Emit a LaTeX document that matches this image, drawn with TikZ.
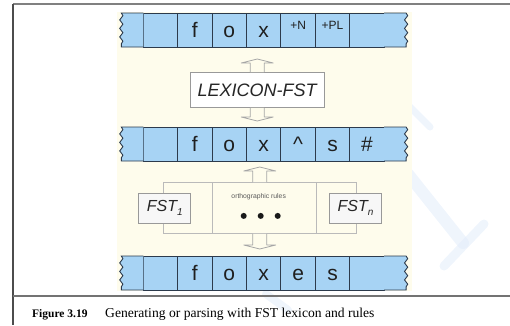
\documentclass[tikz,border=0pt]{standalone}
\usepackage{fontspec}
\setmainfont{Liberation Serif}
\newfontfamily\arialfont{Liberation Sans}
\usetikzlibrary{
        calc,
        decorations.pathmorphing,
        positioning
    }
\definecolor{tapeblue}{RGB}{167,211,244}
\definecolor{tapeline}{RGB}{44,58,76}
\definecolor{paper}{RGB}{254,252,236}
\definecolor{markblue}{RGB}{226,236,250}
\tikzset{
    cell/.style={draw=tapeline, fill=tapeblue, line width=0.9pt,
        minimum width=34.4pt, minimum height=34pt, inner sep=0pt, outer sep=0pt,
        text=black!88, font=\arialfont\fontsize{21}{21}\selectfont,
        text height=15pt, text depth=0pt},
    tag/.style={font=\arialfont\fontsize{12}{12}\selectfont, text height=0pt, text depth=2pt},
    torn/.style={decoration={snake, amplitude=1.6pt, segment length=8.5pt}},
    lexbox/.style={draw=black!40, fill=white, line width=0.8pt,
        minimum width=134pt, minimum height=35pt, inner sep=0pt,
        font=\arialfont\itshape\fontsize{18}{18}\selectfont, text=black!85},
    fstbox/.style={draw=black!40, fill=white!97!black, line width=0.8pt,
        minimum width=52pt, minimum height=30pt, inner sep=0pt,
        font=\arialfont\itshape\fontsize{16}{16}\selectfont, text=black!85},
    group/.style={draw=black!27, line width=0.8pt, inner sep=0pt},
    hollow/.style={draw=black!35, line width=0.8pt, fill=paper, line join=round}
}
% torn blue ends on both sides of a tape
\newcommand\tapeends[2]{%
    \draw[tapeline, fill=tapeblue, line width=0.9pt]
        (#1.north west) -- ++(-22,0) decorate[torn]{-- ++(0,34)} -- (#1.south west);
    \draw[tapeline, fill=tapeblue, line width=0.9pt]
        (#2.north east) -- ++(22,0) decorate[torn]{-- ++(0,34)} -- (#2.south east);
}
% wide hollow arrow from #1 to the tip #2
\newcommand\hollowarrow[2]{%
    \coordinate (hb) at ($(#2)!4pt!(#1)$);
    \draw[hollow] ($(#1)+(-7,0)$) -- ($(hb)+(-7,0)$) -- ($(hb)+(-16,0)$)
        -- (#2) -- ($(hb)+(16,0)$) -- ($(hb)+(7,0)$) -- ($(#1)+(7,0)$);
}

\begin{document}
\begin{tikzpicture}[x=1pt,y=-1pt]
    \useasboundingbox (0,0) rectangle (510,325);

    % faint marks behind the panel
    \begin{scope}[markblue, line cap=round, opacity=.55]
        \draw[line width=7pt] (402,99) -- (430,127);
        \draw[line width=12pt] (408,174) -- (463,243);
        \draw[line width=9pt] (484,224) -- (444,266);
        \draw[line width=8pt] (266,294) -- (288,310);
    \end{scope}

    % page rules
    \draw[black!50, line width=2pt] (13,4) -- (510,4);
    \draw[black!70, line width=1.3pt] (13,4) -- (13,325);
    \draw[black!55, line width=2.6pt] (13,296) -- (510,296);

    \fill[paper] (117,12) rectangle (412,291);

    % lexical tape
    \node[cell] (u1) at (160.5,30) {};
    \node[cell] (u2) [right=0pt of u1] {f};
    \node[cell] (u3) [right=0pt of u2] {o};
    \node[cell] (u4) [right=0pt of u3] {x};
    \node[cell, tag] (u5) [right=0pt of u4] {+N};
    \node[cell, tag] (u6) [right=0pt of u5] {+PL};
    \node[cell] (u7) [right=0pt of u6] {};
    \tapeends{u1}{u7}

    % intermediate tape
    \node[cell] (m1) [below=80pt of u1] {};
    \node[cell] (m2) [right=0pt of m1] {f};
    \node[cell] (m3) [right=0pt of m2] {o};
    \node[cell] (m4) [right=0pt of m3] {x};
    \node[cell] (m5) [right=0pt of m4] {\textasciicircum};
    \node[cell] (m6) [right=0pt of m5] {s};
    \node[cell] (m7) [right=0pt of m6] {\#};
    \tapeends{m1}{m7}

    % surface tape
    \node[cell] (s1) [below=95pt of m1] {};
    \node[cell] (s2) [right=0pt of s1] {f};
    \node[cell] (s3) [right=0pt of s2] {o};
    \node[cell] (s4) [right=0pt of s3] {x};
    \node[cell] (s5) [right=0pt of s4] {e};
    \node[cell] (s6) [right=0pt of s5] {s};
    \node[cell] (s7) [right=0pt of s6] {};
    \tapeends{s1}{s7}

    \node[lexbox] (lex) [below=25pt of u4, xshift=-6.5pt] {LEXICON-FST};

    % orthographic rules
    \node[group, minimum width=193pt, minimum height=51pt] (rules)
        [below=21pt of m4, xshift=-4pt] {};
    \draw[group] ($(rules.north west)+(50,0)$) -- ($(rules.south west)+(50,0)$);
    \draw[group] ($(rules.north east)+(-40,0)$) -- ($(rules.south east)+(-40,0)$);
    \node[text=black!65, font=\arialfont\fontsize{6.8}{7}\selectfont] (orth)
        at ($(rules.north)+(-1,15)$) {orthographic rules};
    \fill[black!90] ($(rules.center)+(-16,8)$) circle (3pt)
        ($(rules.center)+(1,8)$) circle (3pt)
        ($(rules.center)+(18,8)$) circle (3pt);
    \node[fstbox] (fst1) at ($(rules.west)+(2,0)$)
        {FST{\fontsize{10}{10}\selectfont\raisebox{-4pt}{1}}};
    \node[fstbox] (fstn) at ($(rules.east)+(-1,0)$)
        {FST{\fontsize{10}{10}\selectfont\raisebox{-4pt}{n}}};

    % arrows between the stages
    \coordinate (t1) at ($(lex.north |- u4.south)+(0,12)$);
    \coordinate (t2) at ($(lex.south |- m4.north)+(0,-6)$);
    \coordinate (t3) at ($(rules.north |- m4.south)+(0,6)$);
    \coordinate (t4) at ($(rules.south |- s4.north)+(0,-7)$);
    \hollowarrow{lex.north}{t1}
    \hollowarrow{lex.south}{t2}
    \hollowarrow{rules.north}{t3}
    \hollowarrow{rules.south}{t4}

    % caption
    \node[anchor=base west, inner sep=0pt, font=\bfseries\fontsize{11.5}{13}\selectfont]
        (fig) at (32,317) {Figure 3.19};
    \node[anchor=base west, inner sep=0pt, font=\fontsize{13.6}{15}\selectfont]
        (cap) at (105,317) {Generating or parsing with FST lexicon and rules};
\end{tikzpicture}
\end{document}
